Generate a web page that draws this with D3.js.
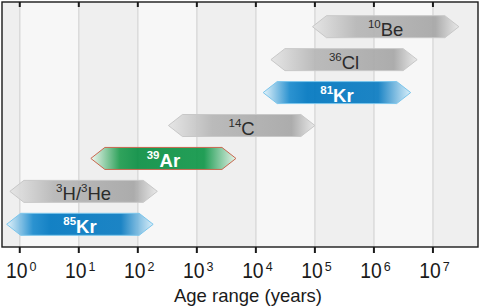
<!DOCTYPE html>
<html>
<head>
<meta charset="utf-8">
<script src="https://cdn.jsdelivr.net/npm/d3@7"></script>
<style>
  html, body { margin: 0; padding: 0; background: #fff; }
  svg { display: block; font-family: "Liberation Sans", Arial, Helvetica, sans-serif; }
</style>
</head>
<body>
<svg id="chart" width="480" height="307"></svg>
<script>
// isotope tracers, top row first ("^" marks a mass number)
const tracers = ["^10Be", "^36Cl", "^81Kr", "^14C", "^39Ar", "^3H/^3He", "^85Kr"];
// dating range in years
const ageMin = [9.1e4, 1.8e4, 1.33e4, 330, 16, 0.68, 0.6];
const ageMax = [2.75e7, 5.4e6, 4.2e6, 1.0e5, 4.6e3, 214, 182];
// tracer group (krypton / argon are highlighted)
const group = ["other", "other", "Kr", "other", "Ar", "other", "Kr"];
const decades = [0, 1, 2, 3, 4, 5, 6, 7];
const xTitle = "Age range (years)";

const styles = {
  other: { stops: [["0%", "#e4e4e4"], ["30%", "#b6b6b6"], ["84%", "#a6a6a6"], ["100%", "#e8e8e8"]], stroke: "#c8c8c8", text: "#2b2b2b", weight: "normal" },
  Kr: { stops: [["0%", "#e2f3fb"], ["18%", "#1a8acd"], ["30%", "#0077c0"], ["78%", "#0a7bc1"], ["100%", "#d6eefa"]], stroke: "#7cc6ec", text: "#ffffff", weight: "bold" },
  Ar: { stops: [["0%", "#f2f8f2"], ["20%", "#1f9c4f"], ["32%", "#0b8f44"], ["78%", "#109749"], ["100%", "#e6f3e8"]], stroke: "#c9674f", text: "#ffffff", weight: "bold" }
};

const svg = d3.select("#chart");
const frame = { left: 2, right: 478, top: 2, bottom: 247 };

const x = d3.scaleLog()
  .domain([0.5, 5.8e7])
  .range([frame.left, frame.right]);

const y = d3.scalePoint()
  .domain(tracers)
  .range([26.7, 224.3]);

const barH = 22, head = 14;

// gradients
const defs = svg.append("defs");
Object.keys(styles).forEach(function (k) {
  const g = defs.append("linearGradient")
    .attr("id", "grad-" + k)
    .attr("x1", "0%").attr("x2", "100%").attr("y1", "0%").attr("y2", "0%");
  styles[k].stops.forEach(function (s) {
    g.append("stop").attr("offset", s[0]).attr("stop-color", s[1]);
  });
});

// alternating decade bands
const lo = Math.log10(x.domain()[0]), hi = Math.log10(x.domain()[1]);
const bandStarts = d3.range(Math.floor(lo), Math.ceil(hi));
svg.append("g")
  .selectAll("rect")
  .data(bandStarts)
  .enter().append("rect")
  .attr("x", d => Math.max(frame.left, x(Math.pow(10, d))))
  .attr("width", d => Math.min(frame.right, x(Math.pow(10, d + 1))) - Math.max(frame.left, x(Math.pow(10, d))))
  .attr("y", frame.top)
  .attr("height", frame.bottom - frame.top)
  .attr("fill", d => (Math.abs(d) % 2 === 0) ? "#f7f7f7" : "#efefef");

// grid lines
svg.append("g")
  .selectAll("line")
  .data(decades)
  .enter().append("line")
  .attr("x1", d => x(Math.pow(10, d)))
  .attr("x2", d => x(Math.pow(10, d)))
  .attr("y1", frame.top)
  .attr("y2", frame.bottom)
  .attr("stroke", "#dadada")
  .attr("stroke-width", 1.5);

// bars
function arrow(i) {
  const x0 = x(ageMin[i]), x1 = x(ageMax[i]), cy = y(tracers[i]), h = barH / 2;
  return [
    [x0, cy], [x0 + head, cy - h], [x1 - head, cy - h],
    [x1, cy], [x1 - head, cy + h], [x0 + head, cy + h]
  ].map(p => p.join(",")).join(" ");
}

const bars = svg.append("g")
  .selectAll("g")
  .data(tracers)
  .enter().append("g");

bars.append("polygon")
  .attr("points", (d, i) => arrow(i))
  .attr("fill", (d, i) => "url(#grad-" + group[i] + ")")
  .attr("fill-opacity", 0.92)
  .attr("stroke", (d, i) => styles[group[i]].stroke)
  .attr("stroke-width", 1);

bars.append("text")
  .attr("x", (d, i) => (x(ageMin[i]) + x(ageMax[i])) / 2)
  .attr("y", d => y(d) + 9)
  .attr("text-anchor", "middle")
  .attr("fill", (d, i) => styles[group[i]].text)
  .attr("font-weight", (d, i) => styles[group[i]].weight)
  .each(function (d) {
    const t = d3.select(this);
    const parts = d.split(/(\^\d+)/).filter(s => s.length);
    parts.forEach(function (p) {
      if (p[0] === "^") {
        t.append("tspan").attr("font-size", 11.5).attr("dy", -8).text(p.slice(1));
      } else {
        t.append("tspan").attr("font-size", 18.5).attr("dy", 8).text(p);
      }
    });
  });

// frame
svg.append("rect")
  .attr("x", frame.left).attr("y", frame.top)
  .attr("width", frame.right - frame.left)
  .attr("height", frame.bottom - frame.top)
  .attr("fill", "none")
  .attr("stroke", "#1a1a1a")
  .attr("stroke-width", 1.4);

// ticks: inward at top, outward at bottom
svg.append("g")
  .selectAll("line")
  .data(decades)
  .enter().append("line")
  .attr("x1", d => x(Math.pow(10, d))).attr("x2", d => x(Math.pow(10, d)))
  .attr("y1", frame.top).attr("y2", frame.top + 5)
  .attr("stroke", "#1a1a1a").attr("stroke-width", 2);

svg.append("g")
  .selectAll("line")
  .data(decades)
  .enter().append("line")
  .attr("x1", d => x(Math.pow(10, d))).attr("x2", d => x(Math.pow(10, d)))
  .attr("y1", frame.bottom).attr("y2", frame.bottom + 6)
  .attr("stroke", "#1a1a1a").attr("stroke-width", 2);

// tick labels 10^n
const tl = svg.append("g")
  .selectAll("text")
  .data(decades)
  .enter().append("text")
  .attr("x", d => x(Math.pow(10, d)) + 1.5)
  .attr("y", 278)
  .attr("text-anchor", "middle")
  .attr("fill", "#1a1a1a");
tl.append("tspan").attr("font-size", 22)
  .attr("textLength", 21.5).attr("lengthAdjust", "spacingAndGlyphs")
  .text("10");
tl.append("tspan").attr("font-size", 12.5).attr("dx", 2).attr("dy", -7.5).text(d => d);

// axis title
svg.append("text")
  .attr("x", (frame.left + frame.right) / 2 + 8)
  .attr("y", 302)
  .attr("text-anchor", "middle")
  .attr("font-size", 18.5)
  .attr("fill", "#1a1a1a")
  .text(xTitle);
</script>
</body>
</html>
